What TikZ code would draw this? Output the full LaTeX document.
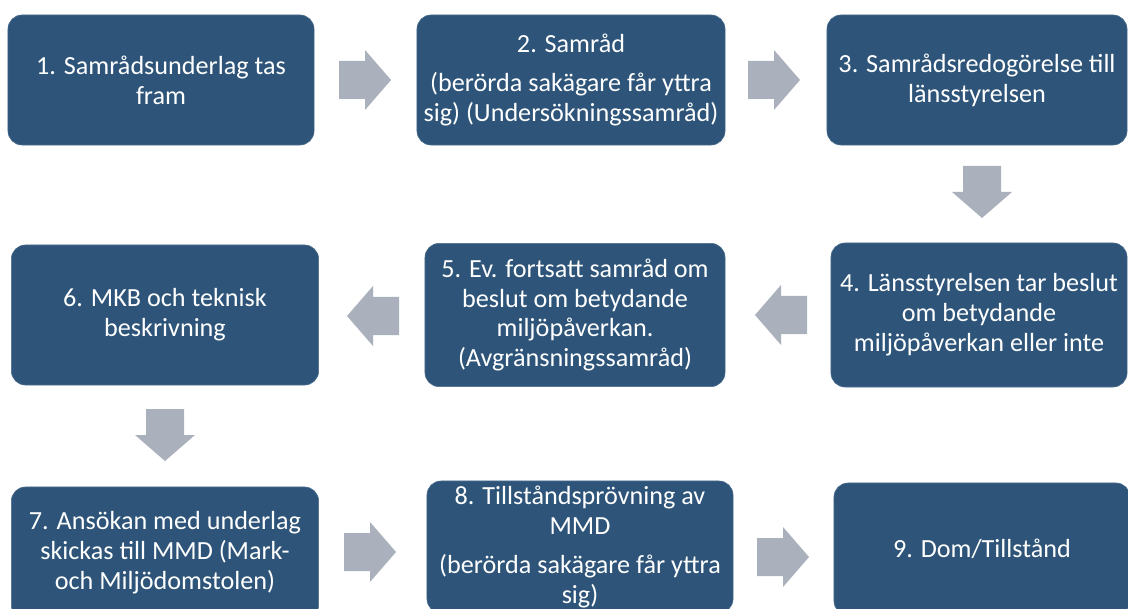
\documentclass[tikz,border=0pt]{standalone}
\usepackage{fontspec}
\setmainfont{Carlito}
\usetikzlibrary{positioning}

\definecolor{boxblue}{HTML}{2E5579}
\definecolor{arrowgray}{HTML}{AAB0BC}

\tikzset{
    stepbox/.style={fill=boxblue, draw=boxblue!85!white, rounded corners=10pt,
        text=white, align=center, font=\fontsize{18.6}{21.3}\selectfont,
        inner sep=2pt},
    blockarrow/.pic={
        \fill[arrowgray] (-26,-19) -- (0,-19) -- (0,-30) -- (26,0) -- (0,30)
            -- (0,19) -- (-26,19) -- cycle;
    }
}

\begin{document}
\begin{tikzpicture}[x=0.025cm, y=-0.025cm]

        \useasboundingbox (0,0) rectangle (1128,609);

        % first row
        \node[stepbox, minimum width=7.65cm, minimum height=3.25cm] (s1) at (161,80)
            {1. Samrådsunderlag tas\\fram};
        \node[stepbox, minimum width=7.7cm, minimum height=3.25cm] (s2) at (571,80)
            {2. Samråd\\[7pt](berörda sakägare får yttra\\sig) (Undersökningssamråd)};
        \node[stepbox, minimum width=7.5cm, minimum height=3.25cm] (s3) at (977,80)
            {3. Samrådsredogörelse till\\länsstyrelsen};

        % second row
        \node[stepbox, minimum width=7.4cm, minimum height=3.6cm] (s4) at (979,315)
            {4. Länsstyrelsen tar beslut\\om betydande\\miljöpåverkan eller inte};
        \node[stepbox, minimum width=7.5cm, minimum height=3.58cm] (s5) at (575,315)
            {5. Ev. fortsatt samråd om\\beslut om betydande\\miljöpåverkan.\\(Avgränsningssamråd)};
        \node[stepbox, minimum width=7.68cm, minimum height=3.5cm] (s6) at (165,315)
            {6. MKB och teknisk\\beskrivning};

        % third row
        \node[stepbox, minimum width=7.68cm, minimum height=3.3cm] (s7) at (165,553)
            {7. Ansökan med underlag\\skickas till MMD (Mark-\\och Miljödomstolen)};
        \node[stepbox, minimum width=7.65cm, minimum height=3.3cm] (s8) at (580,547)
            {8. Tillståndsprövning av\\MMD\\[7pt](berörda sakägare får yttra\\sig)};
        \node[stepbox, minimum width=7.4cm, minimum height=3.3cm] (s9) at (982,549)
            {9. Dom/Tillstånd};

        % arrows
        \pic at (365,80) {blockarrow};
        \pic at (774,80) {blockarrow};
        \pic[rotate=-90] at (982,192) {blockarrow};
        \pic[rotate=180] at (781,315) {blockarrow};
        \pic[rotate=180] at (373,316) {blockarrow};
        \pic[rotate=-90] at (165,435) {blockarrow};
        \pic at (370,552) {blockarrow};
        \pic at (783,557) {blockarrow};

    \end{tikzpicture}
\end{document}
